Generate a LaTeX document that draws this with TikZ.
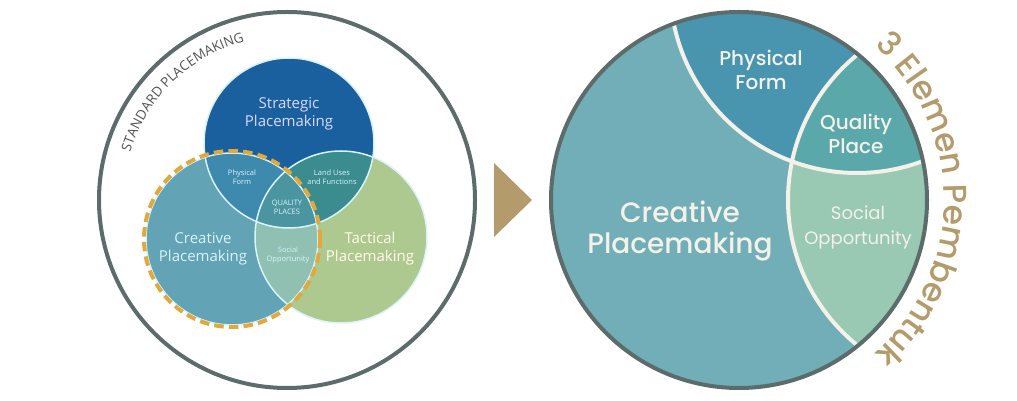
\documentclass[tikz,border=0pt]{standalone}
\usepackage{fontspec}
\setmainfont{Open Sans}
\newfontfamily\popp{Poppins}
\newfontfamily\poppmed{Poppins Medium}
\usetikzlibrary{decorations.text}
\definecolor{rim}{HTML}{5C6C6A}
\definecolor{tanc}{HTML}{B49B6C}
\definecolor{dashc}{HTML}{E1A93D}
\definecolor{strat}{HTML}{1A609F}
\definecolor{crea}{HTML}{62A3B5}
\definecolor{tact}{HTML}{ADC98F}
\definecolor{physl}{HTML}{3E8AAE}
\definecolor{landl}{HTML}{3B8C8E}
\definecolor{quall}{HTML}{4A95A0}
\definecolor{socl}{HTML}{8FC0B2}
\definecolor{creaR}{HTML}{71AEB8}
\definecolor{physR}{HTML}{4995B0}
\definecolor{qualR}{HTML}{5BA8AB}
\definecolor{socR}{HTML}{99C9B3}
\definecolor{cream}{HTML}{F3F1E8}
\newcommand{\fs}[2]{\fontsize{#1}{#2}\selectfont}
\tikzset{
  lbl/.style={align=center, inner sep=0pt, text=#1},
  lbl/.default=cream,
  edge/.style={draw=#1, line width=1.5},
}

\begin{document}
\begin{tikzpicture}[x=1pt,y=1pt]
  \useasboundingbox (0,0) rectangle (1017,401);
  \coordinate (L) at (287,201);
  \coordinate (S) at (289,258);
  \coordinate (C) at (232,162);
  \coordinate (T) at (341,164);
  \coordinate (R) at (739,201);
  \coordinate (RS) at (857,415);
  \coordinate (RT) at (975,201);

  % left: standard placemaking venn
  \draw[rim, line width=4] (L) circle (188);
  \fill[strat] (S) circle (85);
  \fill[crea] (C) circle (86);
  \fill[tact] (T) circle (86);
  \begin{scope}
    \clip (C) circle (86);
    \fill[socl] (T) circle (86);
  \end{scope}
  \begin{scope}
    \clip (S) circle (85);
    \fill[physl] (C) circle (86);
    \fill[landl] (T) circle (86);
    \clip (C) circle (86);
    \fill[quall] (T) circle (86);
  \end{scope}
  \foreach \c/\r in {S/85,C/86,T/86}
    \draw[edge=white!85!cyan] (\c) circle (\r);
  \draw[dashc, line width=4, dash pattern=on 9.5 off 5.2] (C) circle (88);

  \path[decorate, decoration={text along path, text align=center, text color=black!68,
    text={|\fs{13.5}{13.5}|STANDARD PLACEMAKING}}]
    (L) ++(180:164) arc[start angle=180, end angle=88, radius=164];

  \node[lbl=white!85!blue, font=\fs{15}{18}] (strat) at (289,287) {Strategic\\Placemaking};
  \node[lbl=white!85!cyan, font=\fs{15}{18}] (crea) at (203,152) {Creative\\Placemaking};
  \node[lbl=white!90!yellow, font=\fs{15}{18}] (tact) at (370,152) {Tactical\\Placemaking};
  \node[lbl=white!85!cyan, font=\fs{7.5}{9}] (phys) at (242,224) {Physical\\Form};
  \node[lbl=white!85!cyan, font=\fs{7.5}{9}] (land) at (332,224) {Land Uses\\and Functions};
  \node[lbl=white!85!cyan, font=\fs{7.5}{9}] (qual) at (287,194) {QUALITY\\PLACES};
  \node[lbl=white!85!cyan, font=\fs{7.5}{9}] (soc) at (288,146) {Social\\Opportunity};

  % arrow
  \fill[tanc] (494,238) -- (532,201) -- (494,164) -- cycle;

  % right: the three elements
  \begin{scope}
    \clip (R) circle (188);
    \fill[creaR] (R) circle (188);
    \fill[physR] (RS) circle (187);
    \fill[socR] (RT) circle (187);
    \begin{scope}
      \clip (RS) circle (187);
      \fill[qualR] (RT) circle (187);
    \end{scope}
    \draw[cream, line width=4] (RS) circle (187) (RT) circle (187);
  \end{scope}
  \draw[rim, line width=4] (R) circle (188);

  \path[decorate, decoration={text along path, text align=center, text color=tanc,
    text={|\poppmed\fs{33}{33}|3 Elemen Pembentuk}}]
    (R) ++(58:205) arc[start angle=58, end angle=-58, radius=205];

  \node[lbl, font=\poppmed\fs{20}{24}] (physF) at (761,331) {Physical\\Form};
  \node[lbl, font=\poppmed\fs{20}{24}] (qualP) at (856,267) {Quality\\Place};
  \node[lbl, font=\popp\fs{18}{25}] (socO) at (858,174) {Social\\Opportunity};
  \node[lbl, font=\poppmed\fs{28}{31}] (creaP) at (680,170) {Creative\\Placemaking};
\end{tikzpicture}
\end{document}
